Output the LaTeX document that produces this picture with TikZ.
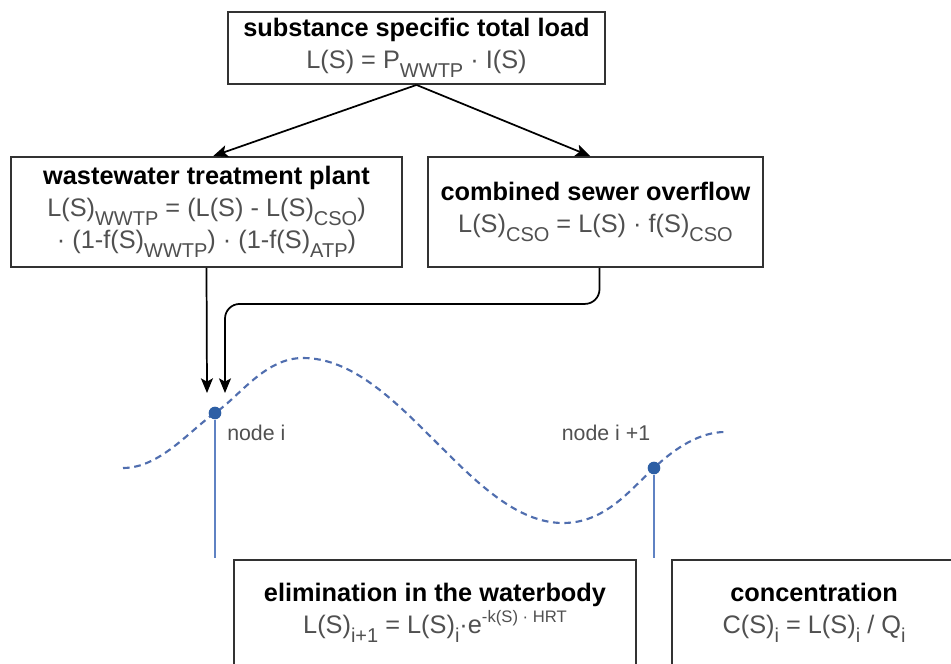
\documentclass[tikz,border=0pt]{standalone}
\usepackage{fontspec}
\setmainfont{Liberation Sans}
\usetikzlibrary{arrows.meta}
\definecolor{framegray}{RGB}{50, 50, 50}
\definecolor{formulagray}{RGB}{80, 80, 80}
\definecolor{riverblue}{RGB}{80, 110, 175}
\definecolor{dotblue}{RGB}{45, 95, 165}
\definecolor{gaugeblue}{RGB}{95, 130, 195}

% lowered / raised indices in text mode
\newcommand{\lo}[1]{\raisebox{-0.36em}{\fontsize{15}{15}\selectfont #1}}
\newcommand{\hi}[1]{\raisebox{0.45em}{\fontsize{12.5}{13}\selectfont #1}}

\begin{document}
\begin{tikzpicture}[x=0.75pt, y=-0.75pt,
  box/.style   = {rectangle, draw=framegray, line width=1.4pt, fill=white,
                  align=center, inner sep=0pt, font=\fontsize{19}{24}\selectfont},
  flow/.style  = {-{Stealth[length=11pt, width=9pt, inset=2.5pt]}, line width=1.3pt, color=black},
  river/.style = {riverblue, line width=1.6pt, dash pattern=on 5pt off 3.5pt},
  gauge/.style = {gaugeblue, line width=1.4pt},
  dot/.style   = {circle, fill=dotblue, inner sep=0pt, minimum size=9.5pt},
  lbl/.style   = {font=\fontsize{16}{18}\selectfont, color=formulagray, inner sep=0pt}
]
  \useasboundingbox (0,0) rectangle (951,664);

  % ---- Row 0: total load ----
  \node[box, minimum width=282.75pt, minimum height=54pt] at (416.5, 48) (load)
    {\textbf{substance specific total load}\\
     {\color{formulagray}L(S) = P\lo{WWTP} · I(S)}};

  % ---- Row 1: WWTP / CSO ----
  \node[box, minimum width=293.25pt, minimum height=82.5pt] at (206.5, 212) (wwtp)
    {\textbf{wastewater treatment plant}\\
     {\color{formulagray}L(S)\lo{WWTP} = (L(S) - L(S)\lo{CSO})}\\
     {\color{formulagray}· (1-f(S)\lo{WWTP}) · (1-f(S)\lo{ATP})}};
  \node[box, minimum width=251.25pt, minimum height=82.5pt] at (595.5, 212) (cso)
    {\textbf{combined sewer overflow}\\
     {\color{formulagray}L(S)\lo{CSO} = L(S) · f(S)\lo{CSO}}};

  % ---- Row 3: waterbody boxes (run off the page) ----
  \node[box, minimum width=301.5pt, minimum height=80pt] at (435, 613) (elim)
    {\textbf{elimination in the waterbody}\\
     {\color{formulagray}L(S)\lo{i+1} = L(S)\lo{i}·e\hi{-k(S) · HRT}}};
  \node[box, minimum width=213pt, minimum height=80pt] at (814, 613) (conc)
    {\textbf{concentration}\\
     {\color{formulagray}C(S)\lo{i} = L(S)\lo{i} / Q\lo{i}}};

  % ---- River course ----
  \draw[river] (123,468) .. controls (160,468) and (190,430) .. (215,413)
               .. controls (240,396) and (265,358) .. (303,358)
               .. controls (400,358) and (470,523) .. (563,523)
               .. controls (605,523) and (630,490) .. (654,468)
               .. controls (675,448) and (700,432) .. (725,432);

  % ---- River nodes ----
  \node[dot] at (215, 413) (nodei)  {};
  \node[dot] at (654, 468) (nodeii) {};
  \coordinate (gaugei)  at (215, 558);
  \coordinate (gaugeii) at (654, 558);
  \draw[gauge] (nodei)  -- (gaugei);
  \draw[gauge] (nodeii) -- (gaugeii);
  \node[lbl, anchor=west] at (227, 433) (lbli)  {node i};
  \node[lbl] at (606, 433) (lblii) {node i +1};

  % ---- Arrows ----
  \coordinate (wwtpin) at (207, 393);
  \coordinate (csoin)  at (225, 393);
  \draw[flow] (load.south) -- ([xshift=5pt]wwtp.north);
  \draw[flow] (load.south) -- ([xshift=-4pt]cso.north);
  \draw[flow] (wwtp.south) -- (wwtpin);
  \draw[flow, rounded corners=11pt] ([xshift=3pt]cso.south) -- ++(0,36) -| (csoin);
\end{tikzpicture}
\end{document}
